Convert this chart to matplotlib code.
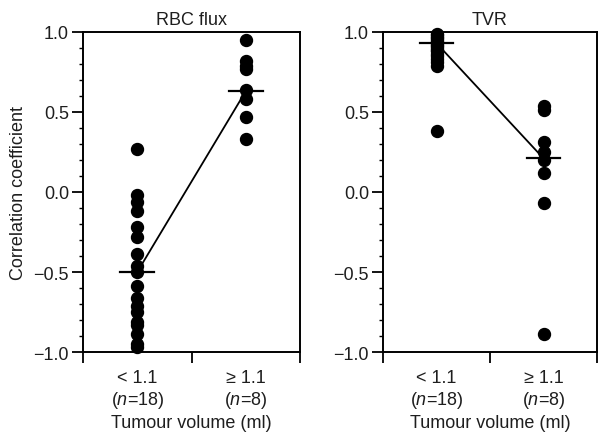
import matplotlib
matplotlib.use("Agg")
import matplotlib.pyplot as plt

plt.rcParams['font.family'] = ['Liberation Sans', 'DejaVu Sans']
plt.rcParams['mathtext.fontset'] = 'custom'
plt.rcParams['mathtext.rm'] = 'Liberation Sans'
plt.rcParams['mathtext.it'] = 'Liberation Sans:italic'
plt.rcParams['text.color'] = '#1e1e1e'
plt.rcParams['xtick.labelcolor'] = '#1e1e1e'
plt.rcParams['ytick.labelcolor'] = '#1e1e1e'
plt.rcParams['axes.labelcolor'] = '#1e1e1e'

# ---- data ----
categories = ["< 1.1\n($\\it{n}$=18)", "\u2265 1.1\n($\\it{n}$=8)"]
panel_titles = ["RBC flux", "TVR"]

rbc_small = [0.27, -0.02, -0.06, -0.12, -0.22, -0.28, -0.39, -0.46, -0.50,
             -0.59, -0.66, -0.71, -0.75, -0.81, -0.83, -0.89, -0.95, -0.97]
rbc_large = [0.95, 0.82, 0.79, 0.77, 0.64, 0.58, 0.47, 0.33]
rbc_centre = [-0.50, 0.63]

tvr_small = [0.99, 0.98, 0.97, 0.96, 0.95, 0.94, 0.93, 0.92, 0.91, 0.90,
             0.89, 0.88, 0.86, 0.85, 0.83, 0.81, 0.79, 0.38]
tvr_large = [0.54, 0.51, 0.31, 0.25, 0.20, 0.12, -0.07, -0.89]
tvr_centre = [0.93, 0.21]

panels = [
    (panel_titles[0], rbc_small, rbc_large, rbc_centre),
    (panel_titles[1], tvr_small, tvr_large, tvr_centre),
]

fig = plt.figure(figsize=(5.98, 4.35), dpi=100)
W, H = 598, 435
axes_px = [(83, 33, 300, 353), (383, 33, 597, 353)]

FS = 13
xpos = [1, 3]
for (title, small, large, centre), (x0, y0, x1, y1) in zip(panels, axes_px):
    ax = fig.add_axes([x0 / W, 1 - y1 / H, (x1 - x0) / W, (y1 - y0) / H])
    ax.plot([xpos[0]] * len(small), small, 'o', color='black', ms=8.6, clip_on=False, zorder=3)
    ax.plot([xpos[1]] * len(large), large, 'o', color='black', ms=8.6, clip_on=False, zorder=3)
    ax.plot(xpos, centre, '-', color='black', lw=1.3, zorder=2)
    for xp, c in zip(xpos, centre):
        ax.plot([xp - 0.31, xp + 0.31], [c, c], '-', color='black', lw=1.6, zorder=4)
    ax.set_xlim(0, 4)
    ax.set_ylim(-1.0, 1.0)
    ax.set_xticks([0, 2, 4])
    ax.set_xticklabels(["", "", ""])
    ax.set_xticks(xpos, minor=True)
    ax.set_xticklabels(categories, minor=True, fontsize=FS, linespacing=1.2)
    ax.tick_params(axis='x', which='major', direction='out', length=8, width=1.3)
    ax.tick_params(axis='x', which='minor', length=0, pad=12)
    ax.set_yticks([-1.0, -0.5, 0.0, 0.5, 1.0])
    ax.set_yticklabels(["\u22121.0", "\u22120.5", "0.0", "0.5", "1.0"], fontsize=FS)
    ax.set_yticks([v / 10 for v in range(-10, 11)], minor=True)
    ax.tick_params(axis='y', which='major', direction='out', length=8, width=1.3, pad=2)
    ax.tick_params(axis='y', which='minor', direction='out', length=3, width=1.0)
    for s in ax.spines.values():
        s.set_linewidth(1.4)
    ax.set_title(title, fontsize=FS, pad=6)
    ax.set_xlabel("Tumour volume (ml)", fontsize=FS, labelpad=3)
    if title == panel_titles[0]:
        ax.set_ylabel("Correlation coefficient", fontsize=FS, labelpad=5)

fig.savefig("out.png", dpi=100)
